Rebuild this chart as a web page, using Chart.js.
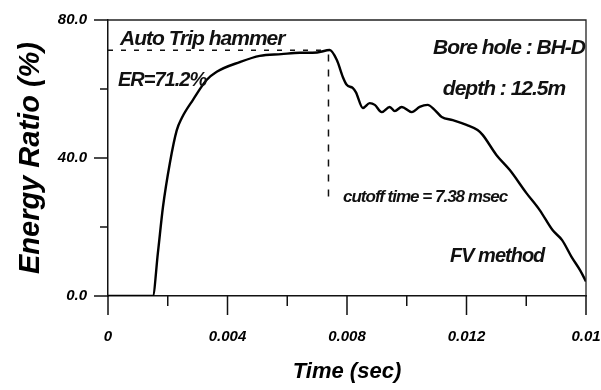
<!DOCTYPE html>
<html>
<head>
<meta charset="utf-8">
<script src="https://cdn.jsdelivr.net/npm/chart.js@4.4.1/dist/chart.umd.min.js"></script>
<style>
  body { margin: 0; background: #fff; }
  canvas { display: block; }
</style>
</head>
<body>
<canvas id="chart" width="601" height="390"></canvas>
<script>
// time (sec) and energy ratio (%)
let timeSec = [0, 0.0015, 0.00167, 0.00184, 0.00207, 0.0023, 0.00247, 0.00284, 0.0033, 0.00364,
  0.00441, 0.00508, 0.0058, 0.00642, 0.007, 0.00742, 0.00766, 0.00786, 0.00799, 0.00819,
  0.0083, 0.00853, 0.00876, 0.00893, 0.00916, 0.00943, 0.0096, 0.00983, 0.01017, 0.01043,
  0.0107, 0.01094, 0.01117, 0.01154, 0.012, 0.01237, 0.01254, 0.013, 0.01345, 0.014,
  0.01445, 0.01488, 0.0152, 0.01552, 0.0158, 0.016]
let energyRatio = [0, 0, 12.5, 25.8, 38.5, 48, 51.6, 56.8, 62.6, 65,
  67.8, 69.6, 70.1, 70.5, 70.6, 71.3, 68.4, 63.5, 61.2, 60.3,
  59, 54.5, 55.9, 55.4, 53.3, 54.8, 53.6, 54.8, 53.3, 54.8,
  55.4, 53.9, 51.9, 51.0, 49.6, 48.1, 46.7, 40.9, 36.5, 29.9,
  24.9, 19.1, 16.2, 11.3, 7.5, 4.2]

let xMajorTicks = [0, 0.004, 0.008, 0.012, 0.016]
let xMinorTicks = [0.002, 0.006, 0.010, 0.014]
let xTickLabels = ["0", "0.004", "0.008", "0.012", "0.01"]
let yMajorTicks = [0, 40, 80]
let yMinorTicks = [20, 60]
let yTickLabels = ["0.0", "40.0", "80.0"]

let erValue = 71.2
let cutoffTime = 0.00738
let cutoffSpan = [70, 28]

const FONT = "'Liberation Sans', Arial, sans-serif"

function txt(ctx, s, x, y, size, align, spacing) {
  ctx.font = "italic bold " + size + "px " + FONT
  ctx.letterSpacing = spacing + "px"
  ctx.textAlign = align
  ctx.textBaseline = "middle"
  ctx.fillText(s, x, y)
  ctx.letterSpacing = "0px"
}

const extras = {
  id: "extras",
  afterDraw(chart) {
    let ctx = chart.ctx
    let xs = chart.scales.x
    let ys = chart.scales.y
    let area = chart.chartArea
    ctx.save()
    ctx.fillStyle = "#111"

    // frame top / right
    ctx.lineWidth = 1.3
    ctx.strokeStyle = "#222"
    ctx.beginPath()
    ctx.moveTo(area.left, area.top)
    ctx.lineTo(area.right, area.top)
    ctx.lineTo(area.right, area.bottom)
    ctx.stroke()

    // tick marks
    ctx.lineWidth = 1.5
    ctx.strokeStyle = "#111"
    ctx.beginPath()
    xMajorTicks.forEach(v => {
      let px = xs.getPixelForValue(v)
      ctx.moveTo(px, area.bottom); ctx.lineTo(px, area.bottom + 19)
    })
    xMinorTicks.forEach(v => {
      let px = xs.getPixelForValue(v)
      ctx.moveTo(px, area.bottom); ctx.lineTo(px, area.bottom + 10)
    })
    yMajorTicks.forEach(v => {
      let py = ys.getPixelForValue(v)
      ctx.moveTo(area.left - 14, py); ctx.lineTo(area.left, py)
    })
    yMinorTicks.forEach(v => {
      let py = ys.getPixelForValue(v)
      ctx.moveTo(area.left - 8, py); ctx.lineTo(area.left, py)
    })
    ctx.stroke()

    // ER level and cutoff time
    let cx = xs.getPixelForValue(cutoffTime)
    let ey = ys.getPixelForValue(erValue)
    ctx.setLineDash([5, 8])
    ctx.beginPath()
    ctx.moveTo(area.left, ey); ctx.lineTo(cx, ey)
    ctx.stroke()
    ctx.setLineDash([7, 8])
    ctx.beginPath()
    ctx.moveTo(cx, ys.getPixelForValue(cutoffSpan[0]))
    ctx.lineTo(cx, ys.getPixelForValue(cutoffSpan[1]))
    ctx.stroke()
    ctx.setLineDash([])

    // notes
    txt(ctx, "Auto Trip hammer", area.left + 12, 39, 21, "left", -1)
    txt(ctx, "ER=71.2%", area.left + 10, 80, 20, "left", -1)
    txt(ctx, "Bore hole : BH-D", area.right - 1, 48, 21, "right", -1)
    txt(ctx, "depth : 12.5m", 504, 89, 21, "center", -1)
    txt(ctx, "cutoff time = 7.38 msec", 343, 197, 17, "left", -1)
    txt(ctx, "FV method", 450, 256, 20, "left", -1)
    ctx.restore()
  }
}

new Chart(document.getElementById("chart"), {
  type: "line",
  data: {
    datasets: [{
      data: timeSec.map((t, i) => ({ x: t, y: energyRatio[i] })),
      borderColor: "#000",
      borderWidth: 2.4,
      pointRadius: 0,
      cubicInterpolationMode: "monotone",
      fill: false
    }]
  },
  options: {
    responsive: false,
    animation: false,
    devicePixelRatio: 1,
    layout: { padding: { top: 20, right: 15, left: 0, bottom: 0 } },
    plugins: { legend: { display: false }, tooltip: { enabled: false } },
    scales: {
      x: {
        type: "linear",
        min: 0,
        max: 0.016,
        afterBuildTicks: s => { s.ticks = xMajorTicks.map(v => ({ value: v })) },
        afterFit: s => { s.height = 94; s.paddingLeft = 0; s.paddingRight = 0 },
        grid: { display: false, drawTicks: false },
        border: { display: true, color: "#111", width: 1.5 },
        ticks: {
          padding: 32,
          maxRotation: 0,
          autoSkip: false,
          color: "#000",
          font: { family: FONT, size: 15, style: "italic", weight: "bold" },
          callback: (v, i) => xTickLabels[i]
        },
        title: {
          display: true,
          text: "Time (sec)",
          color: "#000",
          font: { family: FONT, size: 22, style: "italic", weight: "bold" },
          padding: { top: 0, bottom: 5 }
        }
      },
      y: {
        min: 0,
        max: 80,
        afterBuildTicks: s => { s.ticks = yMajorTicks.map(v => ({ value: v })) },
        afterFit: s => { s.width = 108; s.paddingTop = 0; s.paddingBottom = 0 },
        grid: { display: false, drawTicks: false },
        border: { display: true, color: "#111", width: 1.5 },
        ticks: {
          padding: 21,
          color: "#000",
          font: { family: FONT, size: 15, style: "italic", weight: "bold" },
          callback: (v, i) => yTickLabels[i]
        },
        title: {
          display: true,
          text: "Energy Ratio (%)",
          color: "#000",
          font: { family: FONT, size: 29, style: "italic", weight: "bold" },
          padding: { top: 14, bottom: 0 }
        }
      }
    }
  },
  plugins: [extras]
})
</script>
</body>
</html>
